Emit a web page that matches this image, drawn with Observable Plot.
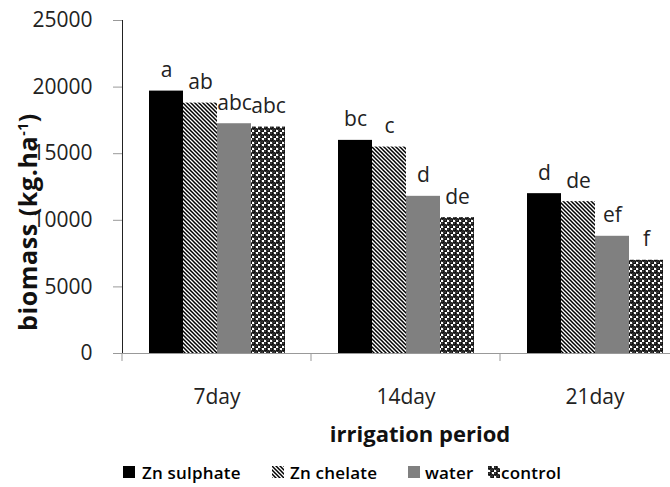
<!DOCTYPE html>
<html>
<head>
<meta charset="utf-8">
<script src="https://cdn.jsdelivr.net/npm/d3@7"></script>
<script src="https://cdn.jsdelivr.net/npm/@observablehq/plot@0.6"></script>
<style>
  html, body { margin: 0; padding: 0; background: #fff; }
  body { width: 670px; height: 487px; overflow: hidden; font-family: "Open Sans", sans-serif; color: #111; }
  #wrap { position: relative; width: 670px; height: 487px; }
  #chart svg { display: block; overflow: hidden; }
  #ytitle { position: absolute; left: 27px; top: 222px; transform: translate(-50%, -50%) rotate(-90deg);
            font-weight: bold; font-size: 25px; letter-spacing: 0.6px; white-space: nowrap; color: #111; }
  #ytitle sup { font-size: 14px; }
  #xtitle { position: absolute; left: 420px; top: 433px; transform: translate(-50%, -50%);
            font-weight: bold; font-size: 22px; white-space: nowrap; color: #111; }
  .leg { position: absolute; top: 472px; transform: translateY(-50%); font-size: 17px; font-weight: 600; white-space: nowrap; color: #000; letter-spacing: 0.2px; }
  .sym { position: absolute; top: 466px; width: 12px; height: 12px; }
</style>
</head>
<body>
<svg width="0" height="0" style="position:absolute">
  <defs>
    <pattern id="stripes" patternUnits="userSpaceOnUse" width="4" height="4">
      <rect width="4" height="4" fill="#fff"/>
      <path d="M-1,-1 L5,5 M-1,3 L1,5 M3,-1 L5,1" stroke="#000" stroke-width="1.5"/>
    </pattern>
    <pattern id="dots" patternUnits="userSpaceOnUse" width="6" height="6">
      <rect width="6" height="6" fill="#fff"/>
      <circle cx="1.5" cy="1.5" r="2.4" fill="#111"/>
      <circle cx="4.5" cy="4.5" r="2.4" fill="#111"/>
      <circle cx="1.1" cy="1.1" r="0.6" fill="#888"/>
      <circle cx="4.1" cy="4.1" r="0.6" fill="#888"/>
    </pattern>
  </defs>
</svg>
<div id="wrap">
  <div id="chart"></div>
  <div id="ytitle">biomass (kg.ha<sup>-1</sup>)</div>
  <div id="xtitle">irrigation period</div>
  <div id="legend"></div>
</div>
<script>
const periods = ["7day", "14day", "21day"];
const treatments = ["Zn sulphate", "Zn chelate", "water", "control"];
const znSulphate = [19700, 16000, 12000];
const znChelate = [18800, 15500, 11400];
const water = [17250, 11800, 8800];
const control = [17000, 10200, 7000];
const lettersZnSulphate = ["a", "bc", "d"];
const lettersZnChelate = ["ab", "c", "de"];
const lettersWater = ["abc", "d", "ef"];
const lettersControl = ["abc", "de", "f"];
const yTicks = [0, 5000, 10000, 15000, 20000, 25000];
const treatmentFills = ["#000", "url(#stripes)", "#808080", "url(#dots)"];

const seriesValues = [znSulphate, znChelate, water, control];
const seriesLetters = [lettersZnSulphate, lettersZnChelate, lettersWater, lettersControl];
const rows = [];
periods.forEach((p, i) => {
  treatments.forEach((t, j) => {
    rows.push({ period: p, treatment: t, value: seriesValues[j][i], letter: seriesLetters[j][i] });
  });
});

const plot = Plot.plot({
  width: 670,
  height: 410,
  marginLeft: 122,
  marginRight: -19,
  marginTop: 20,
  marginBottom: 57,
  style: { fontFamily: "Open Sans, sans-serif", fontSize: "21px", color: "#222", background: "transparent" },
  fx: { domain: periods, padding: 0, label: null, tickSize: 0, tickPadding: 36, axis: "bottom" },
  x: { domain: treatments, paddingInner: 0, paddingOuter: 0.72, axis: null },
  y: { domain: [0, 25000], ticks: yTicks, tickSize: 9, tickPadding: 21, tickFormat: d3.format("d"), label: null, line: true },
  color: { domain: treatments, range: treatmentFills },
  marks: [
    Plot.barY(rows, { fx: "period", x: "treatment", y: "value", fill: "treatment" }),
    Plot.ruleY([0], { stroke: "#999" }),
    Plot.text(rows, { fx: "period", x: "treatment", y: "value", text: "letter", lineAnchor: "bottom", dy: -14, fontSize: 21, fill: "#222" })
  ]
});
document.getElementById("chart").appendChild(plot);

// axis colors
d3.select(plot).selectAll('[aria-label="y-axis tick"], [aria-label="y-axis line"], [aria-label="y-axis rule"]').attr("stroke", "#999");
d3.select(plot).selectAll('g[aria-label="y-axis tick"] path').attr("stroke", "#999");

// category boundary ticks below the x baseline, from the fx scale
const fxS = plot.scale("fx");
const yS = plot.scale("y");
const y0 = yS.apply(0);
const bounds = periods.map(p => fxS.apply(p));
bounds.push(fxS.apply(periods[periods.length - 1]) + fxS.bandwidth);
d3.select(plot).append("g").attr("stroke", "#999")
  .selectAll("line").data(bounds).join("line")
  .attr("x1", d => d).attr("x2", d => d).attr("y1", y0).attr("y2", y0 + 8);

// legend
const legendSymLeft = [123, 272, 408, 488];
const legendTextLeft = [142, 290, 425, 501];
const legend = document.getElementById("legend");
treatments.forEach((t, j) => {
  const s = document.createElementNS("http://www.w3.org/2000/svg", "svg");
  s.setAttribute("class", "sym");
  s.style.left = legendSymLeft[j] + "px";
  s.innerHTML = `<rect width="12" height="12" fill="${treatmentFills[j]}"/>`;
  legend.appendChild(s);
  const d = document.createElement("div");
  d.className = "leg";
  d.style.left = legendTextLeft[j] + "px";
  d.textContent = t;
  legend.appendChild(d);
});
</script>
</body>
</html>
